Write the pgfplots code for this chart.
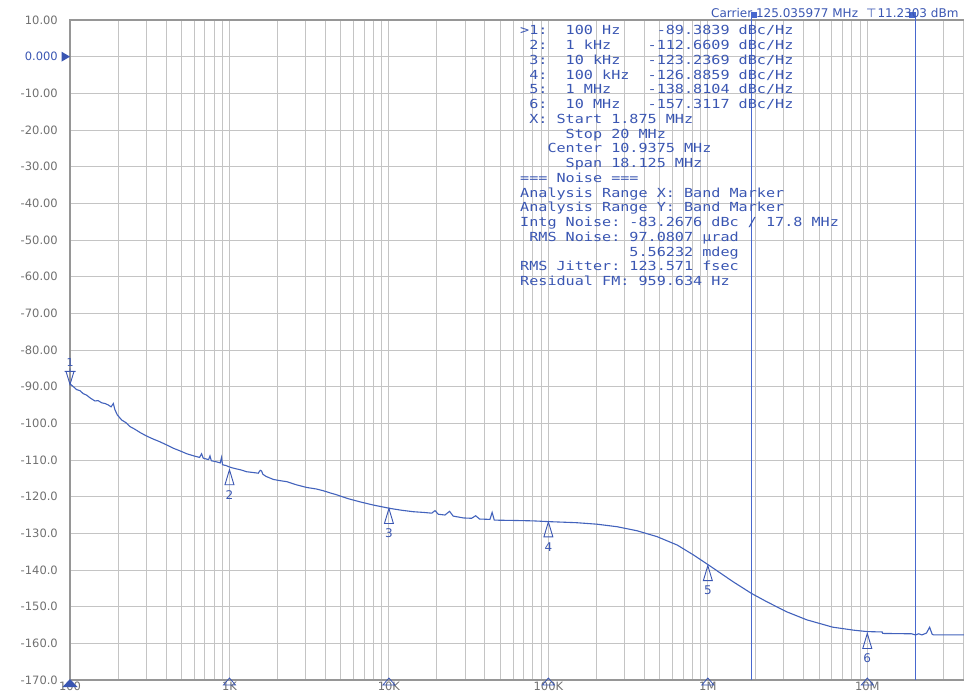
\documentclass[border=0pt]{standalone}
\usepackage{graphicx}
\usepackage{pgfplots}
\pgfplotsset{compat=1.18}
\usepackage{fontspec}
\setmainfont{DejaVu Sans}
\setmonofont{DejaVu Sans Mono}

\definecolor{trace}{RGB}{66,98,188}
\definecolor{bandc}{RGB}{72,104,206}
\definecolor{mtext}{RGB}{58,86,178}
\definecolor{gridc}{RGB}{196,196,196}
\definecolor{axisc}{RGB}{150,150,150}
\definecolor{lab}{RGB}{112,112,112}

% marker shapes
\pgfdeclareplotmark{mkup}{%
  \pgfpathmoveto{\pgfqpoint{0pt}{0pt}}%
  \pgfpathlineto{\pgfqpoint{-4.5pt}{-15pt}}%
  \pgfpathlineto{\pgfqpoint{4.5pt}{-15pt}}%
  \pgfpathclose
  \pgfusepathqstroke}
\pgfdeclareplotmark{mkdown}{%
  \pgfpathmoveto{\pgfqpoint{0pt}{0pt}}%
  \pgfpathlineto{\pgfqpoint{-4pt}{13pt}}%
  \pgfpathlineto{\pgfqpoint{4pt}{13pt}}%
  \pgfpathclose
  \pgfpathmoveto{\pgfqpoint{-5.5pt}{13pt}}%
  \pgfpathlineto{\pgfqpoint{5.5pt}{13pt}}%
  \pgfpathmoveto{\pgfqpoint{0pt}{13pt}}%
  \pgfpathlineto{\pgfqpoint{0pt}{16pt}}%
  \pgfusepathqstroke}
\pgfdeclareplotmark{mkaxis}{%
  \pgfpathmoveto{\pgfqpoint{0pt}{2pt}}%
  \pgfpathlineto{\pgfqpoint{-6pt}{-5pt}}%
  \pgfpathlineto{\pgfqpoint{6pt}{-5pt}}%
  \pgfpathclose
  \pgfusepathqstroke}
\pgfdeclareplotmark{mkaxisfill}{%
  \pgfpathmoveto{\pgfqpoint{0pt}{1pt}}%
  \pgfpathlineto{\pgfqpoint{-7.5pt}{-7pt}}%
  \pgfpathlineto{\pgfqpoint{7.5pt}{-7pt}}%
  \pgfpathclose
  \pgfusepathqfill}
\pgfdeclareplotmark{mkref}{%
  \pgfpathmoveto{\pgfqpoint{0pt}{0pt}}%
  \pgfpathlineto{\pgfqpoint{-8.5pt}{5pt}}%
  \pgfpathlineto{\pgfqpoint{-8.5pt}{-5pt}}%
  \pgfpathclose
  \pgfusepathqfill}
\pgfdeclareplotmark{sqR}{%
  \pgfpathrectangle{\pgfqpoint{0pt}{-6pt}}{\pgfqpoint{6pt}{6pt}}%
  \pgfusepathqfill}
\pgfdeclareplotmark{sqL}{%
  \pgfpathrectangle{\pgfqpoint{-6pt}{-6pt}}{\pgfqpoint{6pt}{6pt}}%
  \pgfusepathqfill}

\begin{document}
\begin{tikzpicture}
\begin{axis}[
    at={(70pt,14pt)}, anchor=south west,
    scale only axis,
    width=895pt, height=660pt,
    xmode=log,
    xmin=100, xmax=4.1e7,
    ymin=-170, ymax=10,
    xtick={100,1000,10000,100000,1000000,10000000},
    xticklabels={100,1K,10K,100K,1M,10M},
    minor xtick={200,300,400,500,600,700,800,900,
                 2000,3000,4000,5000,6000,7000,8000,9000,
                 20000,30000,40000,50000,60000,70000,80000,90000,
                 200000,300000,400000,500000,600000,700000,800000,900000,
                 2e6,3e6,4e6,5e6,6e6,7e6,8e6,9e6,2e7,3e7,4e7},
    ytick={-170,-160,-150,-140,-130,-120,-110,-100,-90,-80,-70,-60,-50,-40,-30,-20,-10,0,10},
    yticklabels={-170.0,-160.0,-150.0,-140.0,-130.0,-120.0,-110.0,-100.0,-90.00,-80.00,-70.00,-60.00,-50.00,-40.00,-30.00,-20.00,-10.00,\textcolor{mtext}{0.000},10.00},
    grid=both,
    major grid style={gridc, line width=0.9pt},
    minor grid style={gridc, line width=0.9pt},
    major tick length=0pt, minor tick length=0pt,
    axis line style={axisc, line width=1.2pt},
    tick label style={lab, font=\fontsize{11.5}{12}\selectfont},
    xticklabel style={anchor=north, inner sep=0pt, yshift=-1.5pt},
    yticklabel style={anchor=east, inner sep=0pt, xshift=-12pt},
    clip=false,
]

% band markers 1.875 MHz .. 20 MHz
\addplot[color=bandc, line width=1pt] coordinates {(1.875e6,-170) (1.875e6,12.2)};
\addplot[color=bandc, line width=1pt] coordinates {(2e7,-170) (2e7,12.2)};
\addplot[color=bandc, only marks, mark=sqR] coordinates {(1.875e6,12.2)};
\addplot[color=bandc, only marks, mark=sqL] coordinates {(2e7,12.2)};

% phase noise trace
\addplot[color=trace, line width=1.1pt] coordinates {
(100,-89.0) (101,-89.4) (105,-90.0) (110,-90.8) (115.5,-91.1) (121,-91.9)
(127,-92.3) (135,-93.2) (143.5,-93.9) (150,-93.8) (158,-94.4) (166,-94.6)
(174,-95.0) (181,-95.5) (187,-94.6) (191,-96.2) (198,-97.7) (211,-99.1)
(224,-99.8) (238,-100.9) (255,-101.6) (275,-102.5) (300,-103.4) (333,-104.3)
(365,-105.0) (404,-105.9) (445,-106.8) (489,-107.5) (540,-108.3) (600,-108.9)
(650,-109.3) (668,-108.3) (685,-109.5) (740,-109.9) (755,-108.9) (770,-110.2)
(830,-110.5) (875,-110.8) (892,-109.3) (905,-111.3) (950,-111.5) (1000,-111.9)
(1034,-112.1) (1100,-112.4) (1180,-112.7) (1280,-113.2) (1400,-113.4) (1515,-113.6)
(1560,-112.8) (1590,-113.0) (1620,-113.9) (1700,-114.5) (1886,-115.3) (2050,-115.6)
(2285,-115.9) (2645,-116.8) (3060,-117.5) (3500,-117.9) (3890,-118.4) (4300,-119.0)
(4710,-119.5) (5500,-120.5) (6570,-121.4) (8000,-122.3) (10150,-123.2) (12000,-123.7)
(14200,-124.1) (16500,-124.3) (18560,-124.5) (19460,-123.8) (20400,-124.8) (22460,-125.0)
(24000,-124.0) (25300,-125.3) (29300,-125.8) (33000,-125.9) (35000,-125.2) (37000,-126.1)
(43000,-126.2) (44400,-124.3) (45800,-126.4) (63000,-126.5) (80000,-126.6) (99500,-126.8)
(150000,-127.1) (201000,-127.5) (270000,-128.2) (360000,-129.3) (480000,-130.9) (643000,-133.2)
(813000,-135.9) (1e6,-138.5) (1.44e6,-143.2) (1.88e6,-146.4) (2.33e6,-148.6) (3.12e6,-151.4)
(4.18e6,-153.6) (6.08e6,-155.6) (8.18e6,-156.4) (1e7,-156.8) (1.24e7,-156.9) (1.25e7,-157.3)
(1.9e7,-157.4) (2.0e7,-157.7) (2.1e7,-157.4) (2.2e7,-157.7) (2.35e7,-157.2) (2.46e7,-155.6)
(2.55e7,-157.5) (2.6e7,-157.7) (4.1e7,-157.7)
};

% markers 2..6
\addplot[color=mtext, line width=0.9pt, only marks, mark=mkup,
    nodes near coords, point meta=explicit symbolic,
    nodes near coords align={anchor=center},
    every node near coord/.append style={yshift=-25pt, text=mtext, inner sep=0pt,
        font=\fontsize{12}{12}\selectfont}]
coordinates {
(1000,-112.6609)[2] (10000,-123.2369)[3] (100000,-126.8859)[4]
(1e6,-138.8104)[5] (1e7,-157.3117)[6]
};
% active marker 1
\addplot[color=mtext, line width=0.9pt, only marks, mark=mkdown,
    nodes near coords, point meta=explicit symbolic,
    nodes near coords align={anchor=center},
    every node near coord/.append style={yshift=22pt, text=mtext, inner sep=0pt,
        font=\fontsize{11}{11}\selectfont}]
coordinates {(100,-89.3839)[1]};

% marker positions on the frequency axis
\addplot[color=mtext, line width=0.8pt, only marks, mark=mkaxis]
coordinates {(1000,-170) (10000,-170) (100000,-170) (1e6,-170) (1e7,-170)};
\addplot[color=mtext, only marks, mark=mkaxisfill] coordinates {(100,-170)};
% reference level
\addplot[color=mtext, only marks, mark=mkref] coordinates {(100,0)};
\end{axis}

\node[anchor=base west, inner sep=0pt, text=mtext, font=\fontsize{12}{12}\selectfont]
  at (711pt,676pt) {Carrier 125.035977 MHz\hspace{8pt}⊤\hspace{1pt}11.2303 dBm};

\node[anchor=base west, inner sep=0pt, text=mtext] at (520pt,659pt) {%
  \fontsize{12.5}{14.75}\selectfont\ttfamily\frenchspacing
  \scalebox{1.21}[1]{\begin{tabular}[t]{@{}l@{}}
>1:~~100~Hz~~~~-89.3839~dBc/Hz\\
~2:~~1~kHz~~~~-112.6609~dBc/Hz\\
~3:~~10~kHz~~~-123.2369~dBc/Hz\\
~4:~~100~kHz~~-126.8859~dBc/Hz\\
~5:~~1~MHz~~~~-138.8104~dBc/Hz\\
~6:~~10~MHz~~~-157.3117~dBc/Hz\\
~X:~Start~1.875~MHz\\
~~~~~Stop~20~MHz\\
~~~Center~10.9375~MHz\\
~~~~~Span~18.125~MHz\\
===~Noise~===\\
Analysis~Range~X:~Band~Marker\\
Analysis~Range~Y:~Band~Marker\\
Intg~Noise:~-83.2676~dBc~/~17.8~MHz\\
~RMS~Noise:~97.0807~µrad\\
~~~~~~~~~~~~5.56232~mdeg\\
RMS~Jitter:~123.571~fsec\\
Residual~FM:~959.634~Hz
  \end{tabular}}};

\pgfresetboundingbox
\useasboundingbox (0,0) rectangle (964pt,694pt);
\end{tikzpicture}
\end{document}
